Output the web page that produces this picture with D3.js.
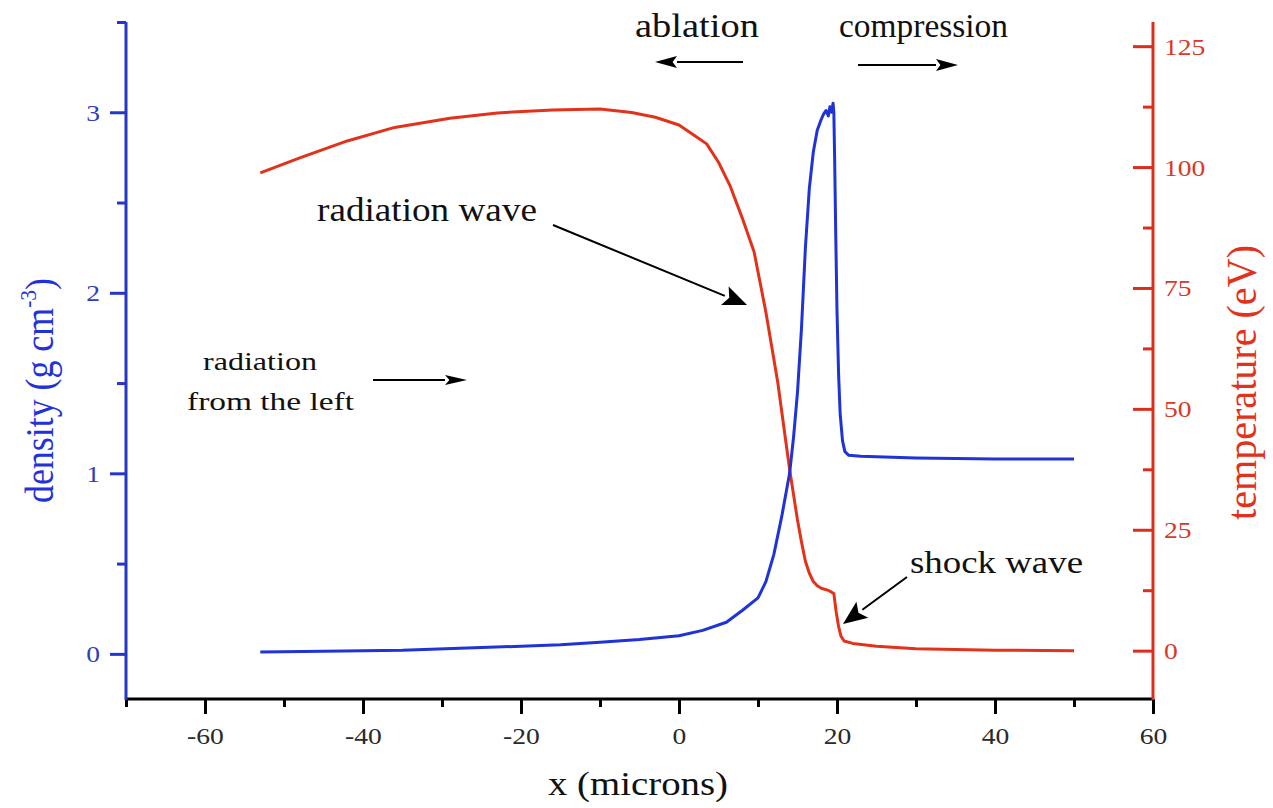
<!DOCTYPE html>
<html>
<head>
<meta charset="utf-8">
<script src="https://cdn.jsdelivr.net/npm/d3@7/dist/d3.min.js"></script>
<style>
  html, body { margin: 0; padding: 0; background: #fff; }
  svg { display: block; font-family: "Liberation Serif", "Times New Roman", serif; }
</style>
</head>
<body>
<svg id="chart" width="1273" height="808"></svg>
<script>
// ---------- data ----------
const densX = [-53,-45,-35,-25,-15,-10,-5,0,3,6,8,10,11,12,13,14,14.5,15,15.5,16,16.5,17,17.5,18,18.3,18.6,18.9,19.1,19.3,19.5,19.6,19.7,19.85,20.0,20.2,20.4,20.7,21.0,21.5,23,26,30,40,50];
const density = [0.01,0.015,0.02,0.035,0.05,0.065,0.08,0.10,0.13,0.175,0.24,0.31,0.40,0.55,0.76,1.0,1.2,1.45,1.8,2.25,2.58,2.78,2.9,2.96,2.99,3.01,2.98,3.03,3.0,3.05,3.0,2.75,2.3,1.9,1.55,1.33,1.18,1.12,1.10,1.095,1.09,1.085,1.08,1.08];

const tempX = [-53,-48,-42,-36,-29,-23,-16,-10,-6,-3,0,2,3.5,5,6.5,8,9.5,11,12.5,14,15,15.5,16,16.5,17,17.5,18,19,19.6,19.9,20.2,20.5,20.9,22,25,30,40,50];
const temperature = [98.8,101.9,105.4,108.2,110.1,111.2,111.8,112,111.3,110.3,108.7,106.5,104.8,101,96,89.5,82.5,70,55.5,37.5,27,22.5,18.5,16,14.3,13.4,12.9,12.4,11.8,8,5,3,2,1.5,0.9,0.4,0.1,0];

const xMajorTicks = [-60,-40,-20,0,20,40,60];
const xMinorTicks = [-70,-50,-30,-10,10,30,50];
const densMajorTicks = [0,1,2,3];
const densMinorTicks = [0.5,1.5,2.5,3.5];
const tempMajorTicks = [0,25,50,75,100,125];
const tempMinorTicks = [12.5,37.5,62.5,87.5,112.5];

// ---------- layout ----------
const BLUE = "#1f33d6", BLUE_AX = "#2437c8", BLUE_TXT = "#3040b8";
const RED = "#e2321c", RED_AX = "#dc2e1c", RED_TXT = "#d83a28";
const svg = d3.select("#chart");

const x = d3.scaleLinear().domain([-70, 60]).range([126, 1153]);
const yD = d3.scaleLinear().domain([-0.25, 3.5]).range([699, 22]);
const yT = d3.scaleLinear().domain([-10, 130]).range([699, 22]);

// ---------- axes ----------
function styleAxis(g, color) {
  g.select(".domain").remove();
  g.selectAll(".tick line").attr("stroke", color).attr("stroke-width", 3);
}

// bottom axis
const gxMinor = svg.append("g").attr("transform", "translate(0,699)")
  .call(d3.axisBottom(x).tickValues(xMinorTicks).tickSize(8).tickSizeOuter(0).tickFormat(""));
styleAxis(gxMinor, "#000");
const gx = svg.append("g").attr("transform", "translate(0,699)")
  .call(d3.axisBottom(x).tickValues(xMajorTicks).tickSize(15).tickSizeOuter(0).tickFormat(d3.format("d")));
styleAxis(gx, "#000");
gx.selectAll(".tick text")
  .attr("y", 0).attr("dy", 0)
  .attr("font-size", 24).attr("fill", "#2a2a2a")
  .attr("font-family", "Liberation Serif")
  .attr("text-anchor", "middle")
  .attr("transform", "translate(0,45) scale(1.15,1)")
  .text(d => d < 0 ? "-" + Math.abs(d) : String(d));

// left axis (density)
const gyMinor = svg.append("g").attr("transform", "translate(126,0)")
  .call(d3.axisLeft(yD).tickValues(densMinorTicks).tickSize(9).tickSizeOuter(0).tickFormat(""));
styleAxis(gyMinor, BLUE_AX);
const gy = svg.append("g").attr("transform", "translate(126,0)")
  .call(d3.axisLeft(yD).tickValues(densMajorTicks).tickSize(16).tickSizeOuter(0).tickFormat(d3.format("d")));
styleAxis(gy, BLUE_AX);
gy.selectAll(".tick text")
  .attr("x", 0).attr("dy", 0)
  .attr("font-size", 23).attr("fill", BLUE_TXT)
  .attr("font-family", "Liberation Serif")
  .attr("text-anchor", "end")
  .attr("transform", "translate(-26,8) scale(1.2,1)");

// right axis (temperature) - ticks pointing inward
const gtMinor = svg.append("g").attr("transform", "translate(1153,0)")
  .call(d3.axisRight(yT).tickValues(tempMinorTicks).tickSize(-10).tickSizeOuter(0).tickFormat(""));
styleAxis(gtMinor, RED_AX);
const gt = svg.append("g").attr("transform", "translate(1153,0)")
  .call(d3.axisRight(yT).tickValues(tempMajorTicks).tickSize(-20).tickSizeOuter(0).tickFormat(d3.format("d")));
styleAxis(gt, RED_AX);
gt.selectAll(".tick text")
  .attr("x", 0).attr("dy", 0)
  .attr("font-size", 23).attr("fill", RED_TXT)
  .attr("font-family", "Liberation Serif")
  .attr("text-anchor", "start")
  .attr("transform", "translate(11,8) scale(1.2,1)");

// axis lines
svg.append("line").attr("x1", x(-70)).attr("x2", x(60)).attr("y1", 699).attr("y2", 699)
  .attr("stroke", "#000").attr("stroke-width", 3);
svg.append("line").attr("x1", 126).attr("x2", 126).attr("y1", yD(3.5)).attr("y2", 700)
  .attr("stroke", BLUE_AX).attr("stroke-width", 3);
svg.append("line").attr("x1", 1153).attr("x2", 1153).attr("y1", yT(130)).attr("y2", 700)
  .attr("stroke", RED_AX).attr("stroke-width", 3);

// ---------- data lines ----------
const densLine = d3.line().x((d, i) => x(densX[i])).y(d => yD(d));
const tempLine = d3.line().x((d, i) => x(tempX[i])).y(d => yT(d));

svg.append("path").datum(temperature).attr("d", tempLine)
  .attr("fill", "none").attr("stroke", RED).attr("stroke-width", 3).attr("stroke-linejoin", "round");
svg.append("path").datum(density).attr("d", densLine)
  .attr("fill", "none").attr("stroke", BLUE).attr("stroke-width", 3).attr("stroke-linejoin", "round");

// ---------- axis titles ----------
svg.append("text")
  .attr("transform", "translate(548,795)")
  .attr("font-size", 34).attr("fill", "#111")
  .attr("textLength", 180).attr("lengthAdjust", "spacingAndGlyphs")
  .text("x (microns)");

const dens = svg.append("text")
  .attr("transform", "translate(53,503) rotate(-90)")
  .attr("font-size", 40).attr("fill", BLUE)
  .attr("textLength", 225).attr("lengthAdjust", "spacingAndGlyphs");
dens.append("tspan").text("density (g cm");
dens.append("tspan").attr("dy", -17).attr("font-size", 24).text("-3");
dens.append("tspan").attr("dy", 17).text(")");

svg.append("text")
  .attr("transform", "translate(1256,520) rotate(-90)")
  .attr("font-size", 42).attr("fill", RED)
  .attr("textLength", 275).attr("lengthAdjust", "spacingAndGlyphs")
  .text("temperature (eV)");

// ---------- annotations ----------
function label(txt, px, py, size, len) {
  svg.append("text").attr("x", px).attr("y", py)
    .attr("font-size", size).attr("fill", "#111")
    .attr("textLength", len).attr("lengthAdjust", "spacingAndGlyphs")
    .text(txt);
}
function arrow(x1, y1, x2, y2, headLen, headHalf, sw) {
  const ang = Math.atan2(y2 - y1, x2 - x1);
  const bx = x2 - headLen * Math.cos(ang), by = y2 - headLen * Math.sin(ang);
  svg.append("line").attr("x1", x1).attr("y1", y1).attr("x2", bx).attr("y2", by)
    .attr("stroke", "#000").attr("stroke-width", sw);
  const nx = -Math.sin(ang), ny = Math.cos(ang);
  const p = [[x2, y2], [bx + nx * headHalf, by + ny * headHalf],
             [x2 - headLen * 0.8 * Math.cos(ang), y2 - headLen * 0.8 * Math.sin(ang)],
             [bx - nx * headHalf, by - ny * headHalf]];
  svg.append("path").attr("d", "M" + p.map(q => q.join(",")).join("L") + "Z").attr("fill", "#000");
}

label("ablation", 635, 37, 34, 124);
label("compression", 839, 37, 34, 169);
arrow(743, 62, 655, 62, 22, 6, 2);
arrow(858, 65, 958, 65, 22, 6, 2);

label("radiation wave", 317, 221, 33, 220);
arrow(553, 225, 747, 305, 24, 10, 2);

label("radiation", 203, 370, 25, 114);
label("from the left", 187, 410, 25, 167);
arrow(373, 380, 467, 380, 22, 5, 2);

label("shock wave", 910, 573, 32, 173);
arrow(907, 577, 843, 624, 24, 10, 2);
</script>
</body>
</html>
